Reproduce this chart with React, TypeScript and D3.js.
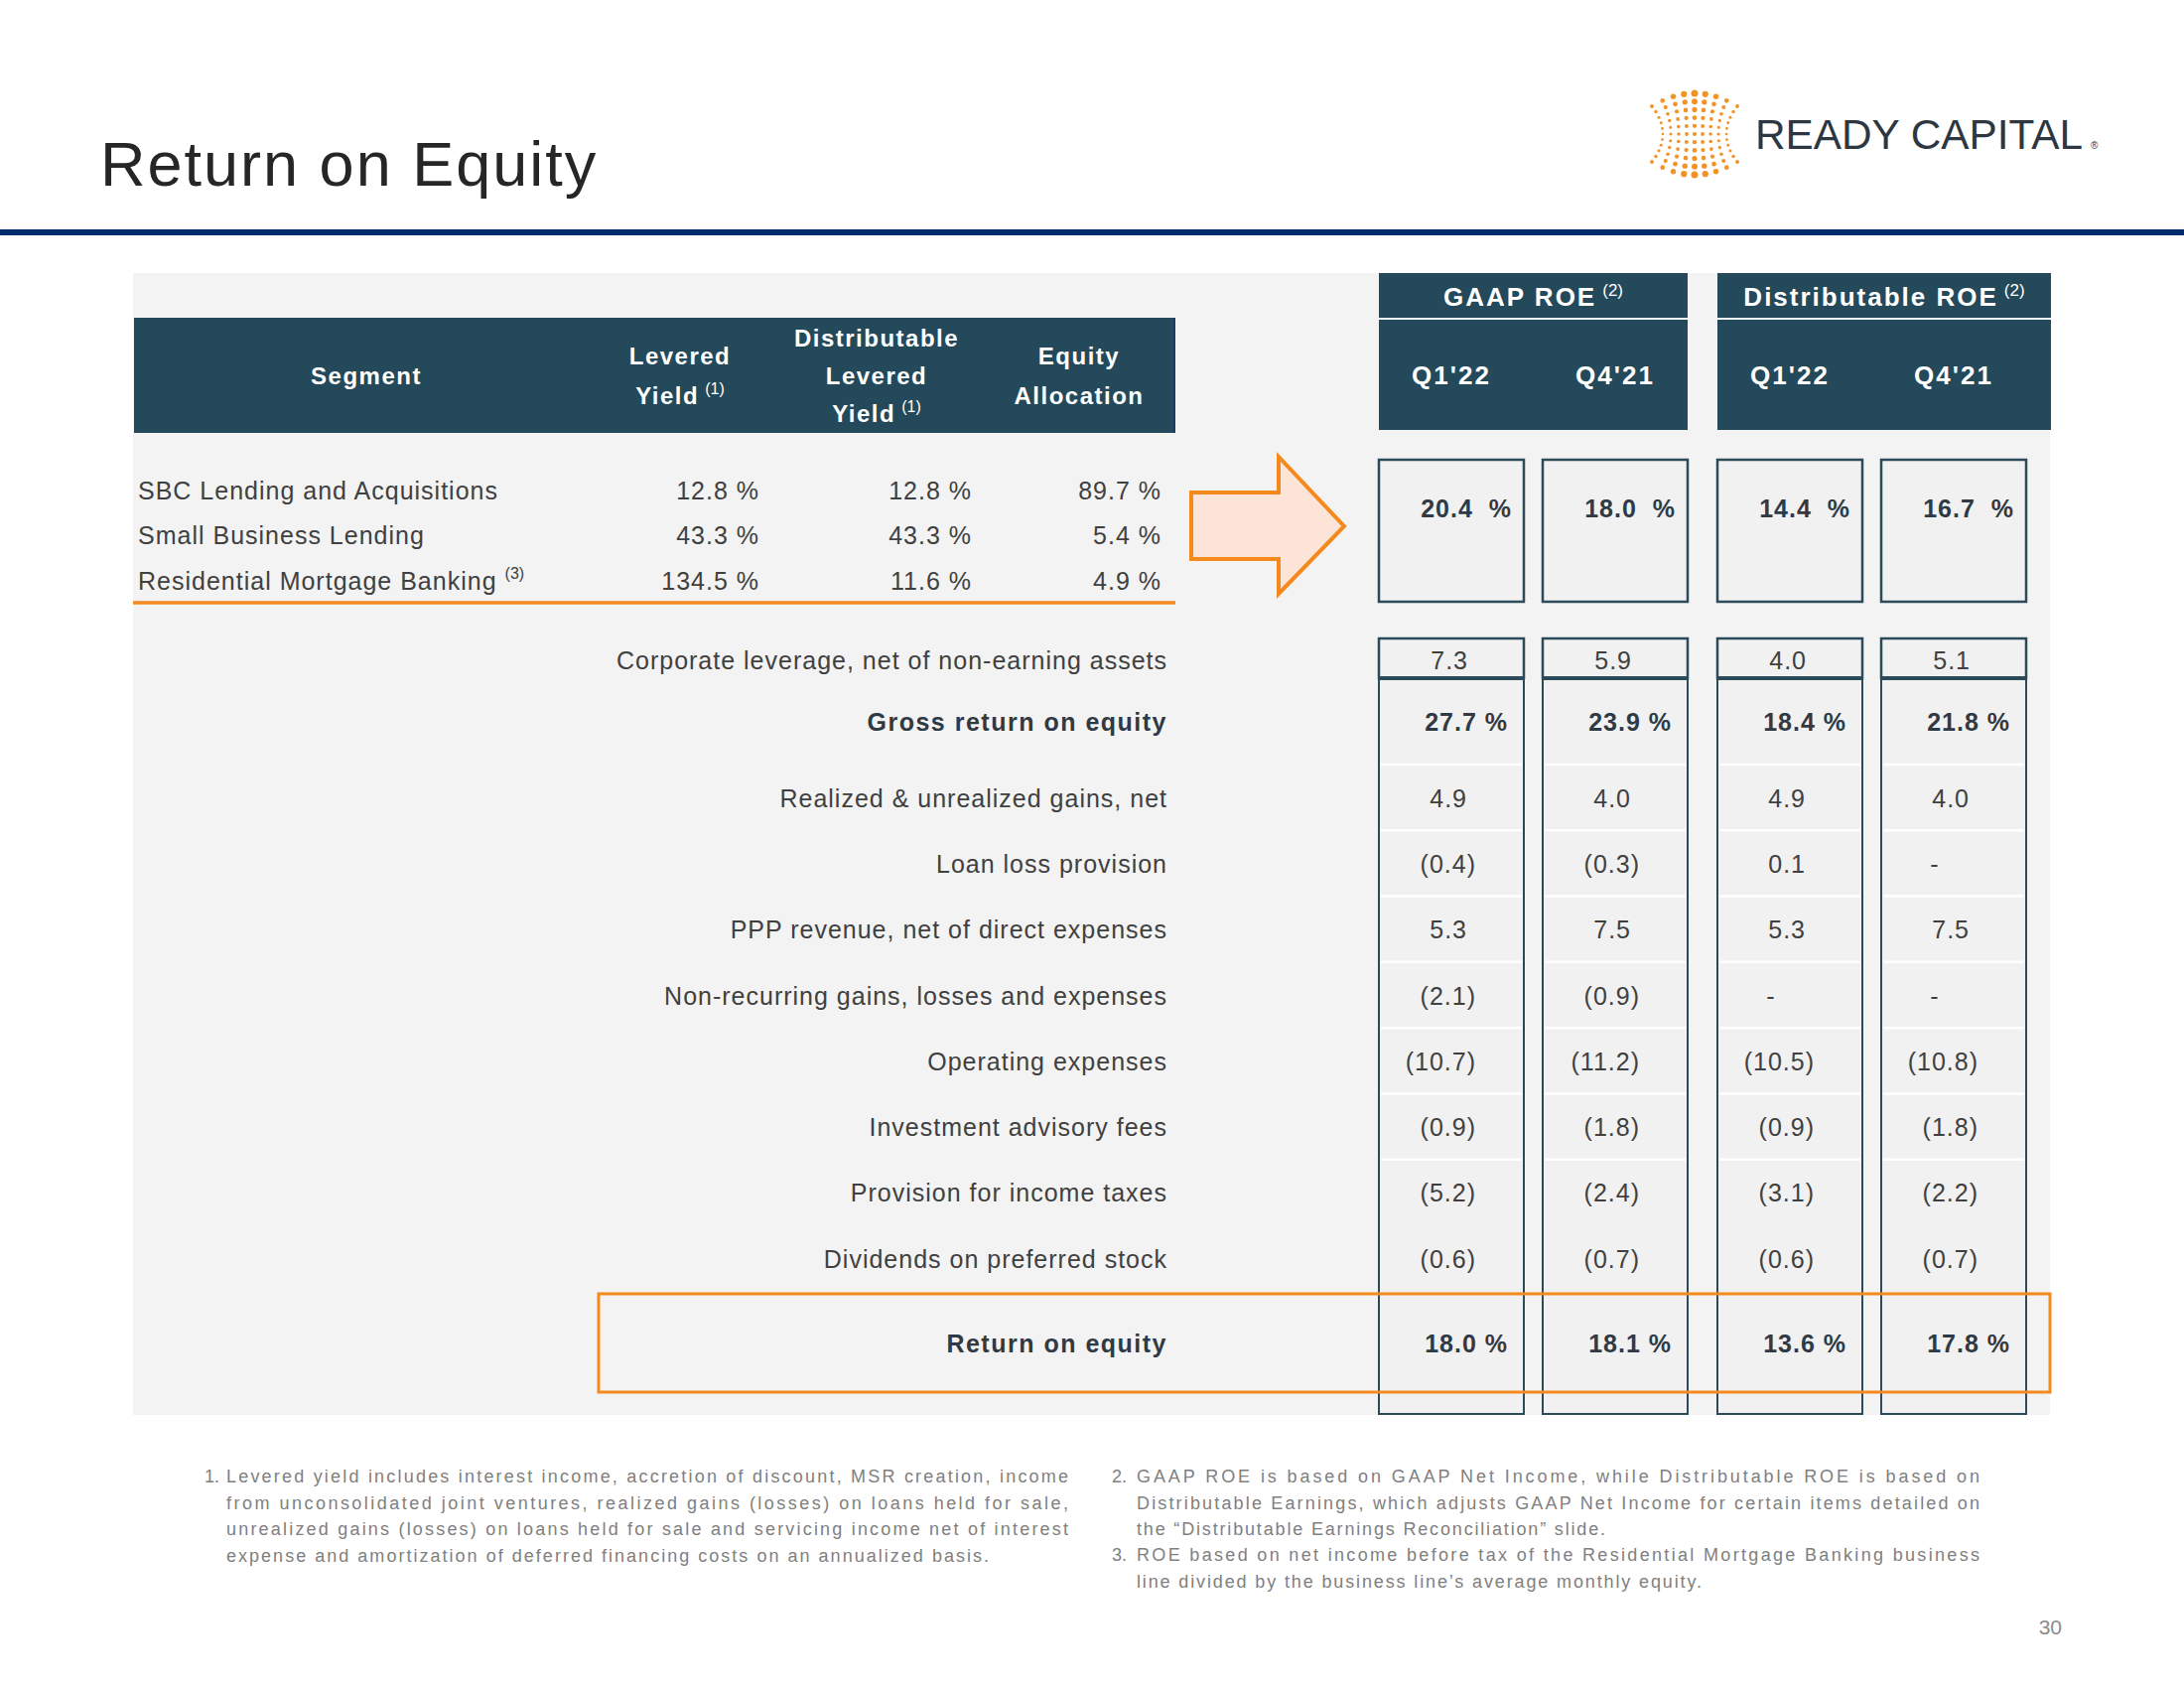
import React from "react";
import * as d3 from "d3";

// ---------- data ----------
const title = "Return on Equity";
const segments = ["SBC Lending and Acquisitions", "Small Business Lending", "Residential Mortgage Banking"];
const segmentSup = ["", "", "(3)"];
const leveredYield = [12.8, 43.3, 134.5];
const distLeveredYield = [12.8, 43.3, 11.6];
const equityAllocation = [89.7, 5.4, 4.9];

const leftHeaders = [
  { lines: ["Segment"], sup: "" },
  { lines: ["Levered", "Yield"], sup: "(1)" },
  { lines: ["Distributable", "Levered", "Yield"], sup: "(1)" },
  { lines: ["Equity", "Allocation"], sup: "" },
];

const roeGroups = ["GAAP ROE", "Distributable ROE"];
const roeGroupSup = "(2)";
const quarters = ["Q1'22", "Q4'21"];

// column order: GAAP Q1'22, GAAP Q4'21, Dist Q1'22, Dist Q4'21
const weightedSegmentRoe = [20.4, 18.0, 14.4, 16.7];
const corporateLeverage = [7.3, 5.9, 4.0, 5.1];
const grossRoe = [27.7, 23.9, 18.4, 21.8];
const lineItems = [
  "Realized & unrealized gains, net",
  "Loan loss provision",
  "PPP revenue, net of direct expenses",
  "Non-recurring gains, losses and expenses",
  "Operating expenses",
  "Investment advisory fees",
  "Provision for income taxes",
  "Dividends on preferred stock",
];
const gaapQ1 = [4.9, -0.4, 5.3, -2.1, -10.7, -0.9, -5.2, -0.6];
const gaapQ4 = [4.0, -0.3, 7.5, -0.9, -11.2, -1.8, -2.4, -0.7];
const distQ1 = [4.9, 0.1, 5.3, null, -10.5, -0.9, -3.1, -0.6];
const distQ4 = [4.0, null, 7.5, null, -10.8, -1.8, -2.2, -0.7];
const returnOnEquity = [18.0, 18.1, 13.6, 17.8];

const footnote1 = [
  "Levered yield includes interest income, accretion of discount, MSR creation, income",
  "from unconsolidated joint ventures, realized gains (losses) on loans held for sale,",
  "unrealized gains (losses) on loans held for sale and servicing income net of interest",
  "expense and amortization of deferred financing costs on an annualized basis.",
];
const footnote2 = [
  "GAAP ROE is based on GAAP Net Income, while Distributable ROE is based on",
  "Distributable Earnings, which adjusts GAAP Net Income for certain items detailed on",
  "the \u201cDistributable Earnings Reconciliation\u201d slide.",
];
const footnote3 = [
  "ROE based on net income before tax of the Residential Mortgage Banking business",
  "line divided by the business line\u2019s average monthly equity.",
];
const pageNumber = "30";
const brand = "READY CAPITAL";

// ---------- styles / layout ----------
const FONT = "'Liberation Sans', Arial, Helvetica, sans-serif";
const DARK = "#23495A";
const STROKE = "#2B4A5A";
const ORANGE = "#F48A1E";
const TEXT = "#404040";
const BOLDTEXT = "#2F3A44";
const NOTE = "#808080";
const PANEL = { x: 134, y: 275, right: 2065, bottom: 1425 };

const fmt = (v: number | null) =>
  v == null ? "-" : v < 0 ? `(${Math.abs(v).toFixed(1)})` : v.toFixed(1);

function Logo() {
  const rows = d3.range(11);
  const cols = d3.range(9);
  const cx = 1707, cy = 135;
  const dots: { x: number; y: number; r: number }[] = [];
  rows.forEach((i) => {
    const t = (i - 5) / 5;
    const hw = 32 + 11 * t * t;
    cols.forEach((j) => {
      const u = (j - 4) / 4;
      const x = cx + u * hw;
      const y = cy + t * (28 + 13 * (1 - u * u));
      const r = 0.9 + 2.6 * (1 - 0.6 * Math.abs(u)) * (0.45 + 0.55 * t * t);
      dots.push({ x, y, r });
    });
  });
  return (
    <g>
      {dots.map((d, k) => (
        <circle key={k} cx={d.x} cy={d.y} r={d.r} fill="#F39226" />
      ))}
      <text x={1768} y={150} fontFamily={FONT} fontSize={42} fill="#2D3741"
        textLength={330} lengthAdjust="spacingAndGlyphs">{brand}</text>
      <text x={2106} y={150} fontFamily={FONT} fontSize={10} fill="#2D3741">®</text>
    </g>
  );
}

export default function App() {
  // right-side column scales
  const outer = d3.scaleBand<string>().domain(roeGroups).range([1389, 2041]).paddingInner(30 / 341);
  const inner = d3.scaleBand<string>().domain(quarters).range([0, outer.bandwidth()]).paddingInner(19 / 165);
  const colX = roeGroups.flatMap((g) => quarters.map((q) => (outer(g) as number) + (inner(q) as number)));
  const colW = inner.bandwidth();

  const lineCols = [gaapQ1, gaapQ4, distQ1, distQ4];

  const segY = d3.scalePoint<string>().domain(segments).range([494, 585]);
  const itemY = d3.scalePoint<string>().domain(lineItems).range([804, 1268]);

  // left table column positions (header centers, value right edges)
  const leftHeaderX = [369, 685, 883, 1087];
  const leftValueEnd = [765, 979, 1170];
  const leftValues = [leveredYield, distLeveredYield, equityAllocation];

  const labelRight = 1176;
  const yTopBox = [463, 606];
  const yLev = [643, 683];
  const yMainBottom = 1424;

  return (
    <svg width={2200} height={1700} style={{ position: "absolute", left: 0, top: 0, background: "#fff" }}>
      <rect width={2200} height={1700} fill="#fff" />
      {/* title */}
      <text x={101} y={187} fontFamily={FONT} fontSize={63} letterSpacing={2} fill="#262626">{title}</text>
      <Logo />
      <rect x={0} y={231} width={2200} height={6} fill="#012B6D" />

      {/* panel */}
      <rect x={PANEL.x} y={PANEL.y} width={PANEL.right - PANEL.x} height={PANEL.bottom - PANEL.y} fill="#F3F3F3" />

      {/* left header */}
      <rect x={135} y={320} width={1049} height={116} fill={DARK} />
      <line x1={1183} x2={1183} y1={320} y2={436} stroke="#1F3864" strokeWidth={2} />
      {leftHeaders.map((h, k) => {
        const n = h.lines.length;
        const gap = n === 3 ? 38 : 40;
        const y0 = 379 - ((n - 1) * gap) / 2;
        return h.lines.map((ln, li) => (
          <text key={`${k}-${li}`} x={leftHeaderX[k]} y={y0 + li * gap} dy="0.35em" textAnchor="middle"
            fontFamily={FONT} fontSize={24} fontWeight="bold" letterSpacing={1.5} fill="#fff">
            {ln}
            {li === n - 1 && h.sup ? (
              <tspan dx={6} dy={-10} fontSize={16} fontWeight="normal" letterSpacing={0}>{h.sup}</tspan>
            ) : null}
          </text>
        ));
      })}

      {/* segment rows */}
      {segments.map((s, i) => (
        <g key={s}>
          <text x={139} y={segY(s)} dy="0.35em" fontFamily={FONT} fontSize={25} letterSpacing={1} fill={TEXT}>
            {s}
            {segmentSup[i] ? (
              <tspan dx={8} dy={-11} fontSize={16} letterSpacing={0}>{segmentSup[i]}</tspan>
            ) : null}
          </text>
          {leftValues.map((vals, c) => (
            <text key={c} x={leftValueEnd[c]} y={segY(s)} dy="0.35em" textAnchor="end" fontFamily={FONT}
              fontSize={25} letterSpacing={1} fill={TEXT}>{`${vals[i].toFixed(1)} %`}</text>
          ))}
        </g>
      ))}
      <line x1={134} x2={1184} y1={607} y2={607} stroke={ORANGE} strokeWidth={3.5} />

      {/* arrow */}
      <path d="M1200,496 L1288,496 L1288,460 L1354,530 L1288,598 L1288,563 L1200,563 Z" fill="#FCE4D6"
        stroke={ORANGE} strokeWidth={4} strokeLinejoin="miter" />

      {/* right headers */}
      {roeGroups.map((g, gi) => {
        const x = outer(g) as number;
        const w = gi === roeGroups.length - 1 ? PANEL.right + 1 - x : outer.bandwidth();
        return (
          <g key={g}>
            <rect x={x} y={275} width={w} height={45} fill={DARK} />
            <rect x={x} y={322} width={w} height={111} fill={DARK} />
            <text x={x + w / 2} y={299} dy="0.35em" textAnchor="middle" fontFamily={FONT} fontSize={26}
              fontWeight="bold" letterSpacing={2} fill="#fff">
              {g}
              <tspan dx={6} dy={-10} fontSize={17} fontWeight="normal" letterSpacing={0}>{roeGroupSup}</tspan>
            </text>
          </g>
        );
      })}
      {colX.map((x, c) => (
        <text key={c} x={x + colW / 2} y={378} dy="0.35em" textAnchor="middle" fontFamily={FONT} fontSize={26}
          fontWeight="bold" letterSpacing={2} fill="#fff">{quarters[c % 2]}</text>
      ))}

      {/* column boxes */}
      {colX.map((x, c) => (
        <g key={c}>
          <rect x={x} y={yTopBox[0]} width={colW} height={yTopBox[1] - yTopBox[0]} fill="#F1F1F1"
            stroke={STROKE} strokeWidth={2.5} />
          <rect x={x} y={yLev[1]} width={colW} height={yMainBottom - yLev[1]} fill="#F1F1F1" />
          {lineItems.slice(0, 7).map((it) => (
            <line key={it} x1={x + 2} x2={x + colW - 2} y1={(itemY(it) as number) - 34}
              y2={(itemY(it) as number) - 34} stroke="#fff" strokeWidth={2.5} />
          ))}
          <rect x={x} y={yLev[1]} width={colW} height={yMainBottom - yLev[1]} fill="none" stroke={STROKE}
            strokeWidth={2} />
          <rect x={x} y={yLev[0]} width={colW} height={yLev[1] - yLev[0]} fill="#F1F1F1" stroke={STROKE}
            strokeWidth={2.5} />
          <line x1={x} x2={x + colW} y1={yLev[1]} y2={yLev[1]} stroke={STROKE} strokeWidth={4} />
          <text x={x + 134} y={512} dy="0.35em" textAnchor="end" fontFamily={FONT} fontSize={25}
            fontWeight="bold" letterSpacing={1} fill={BOLDTEXT} style={{ whiteSpace: "pre" }}>
            {`${weightedSegmentRoe[c].toFixed(1)}\u00a0\u00a0%`}
          </text>
          <text x={x + 90} y={665} dy="0.35em" textAnchor="end" fontFamily={FONT} fontSize={25}
            letterSpacing={1} fill={TEXT}>{fmt(corporateLeverage[c])}</text>
          <text x={x + 130} y={727} dy="0.35em" textAnchor="end" fontFamily={FONT} fontSize={25}
            fontWeight="bold" letterSpacing={1} fill={BOLDTEXT}>{`${grossRoe[c].toFixed(1)} %`}</text>
          {lineItems.map((it, r) => {
            const v = lineCols[c][r];
            const isDash = v == null;
            return (
              <text key={it} x={isDash ? x + 54 : v < 0 ? x + 98 : x + 89} y={itemY(it)} dy="0.35em"
                textAnchor={isDash ? "middle" : "end"} fontFamily={FONT} fontSize={25} letterSpacing={1}
                fill={TEXT}>{fmt(v)}</text>
            );
          })}
          <text x={x + 130} y={1353} dy="0.35em" textAnchor="end" fontFamily={FONT} fontSize={25}
            fontWeight="bold" letterSpacing={1} fill={BOLDTEXT}>{`${returnOnEquity[c].toFixed(1)} %`}</text>
        </g>
      ))}

      {/* row labels */}
      <text x={labelRight} y={665} dy="0.35em" textAnchor="end" fontFamily={FONT} fontSize={25} letterSpacing={1}
        fill={TEXT}>Corporate leverage, net of non-earning assets</text>
      <text x={labelRight} y={727} dy="0.35em" textAnchor="end" fontFamily={FONT} fontSize={25} fontWeight="bold"
        letterSpacing={1.5} fill={BOLDTEXT}>Gross return on equity</text>
      {lineItems.map((it) => (
        <text key={it} x={labelRight} y={itemY(it)} dy="0.35em" textAnchor="end" fontFamily={FONT} fontSize={25}
          letterSpacing={1} fill={TEXT}>{it}</text>
      ))}
      <text x={labelRight} y={1353} dy="0.35em" textAnchor="end" fontFamily={FONT} fontSize={25} fontWeight="bold"
        letterSpacing={1.5} fill={BOLDTEXT}>Return on equity</text>

      {/* orange ROE box */}
      <rect x={603} y={1303} width={1462} height={99} fill="none" stroke={ORANGE} strokeWidth={3} />

      {/* footnotes */}
      <g fontFamily={FONT} fontSize={18} fill={NOTE}>
        <text x={206} y={1487} dy="0.35em">1.</text>
        {footnote1.map((ln, i) => (
          <text key={i} x={228} y={1487 + i * 26.5} dy="0.35em"
            textLength={i < footnote1.length - 1 ? 848 : 768} lengthAdjust="spacing">{ln}</text>
        ))}
        <text x={1120} y={1487} dy="0.35em">2.</text>
        {footnote2.map((ln, i) => (
          <text key={i} x={1145} y={1487 + i * 26.5} dy="0.35em"
            textLength={i < footnote2.length - 1 ? 849 : 472} lengthAdjust="spacing">{ln}</text>
        ))}
        <text x={1120} y={1566} dy="0.35em">3.</text>
        {footnote3.map((ln, i) => (
          <text key={i} x={1145} y={1566 + i * 27} dy="0.35em"
            textLength={i < footnote3.length - 1 ? 849 : 569} lengthAdjust="spacing">{ln}</text>
        ))}
      </g>
      <text x={2077} y={1639} dy="0.35em" textAnchor="end" fontFamily={FONT} fontSize={21} fill="#8C8C8C">
        {pageNumber}
      </text>
    </svg>
  );
}
